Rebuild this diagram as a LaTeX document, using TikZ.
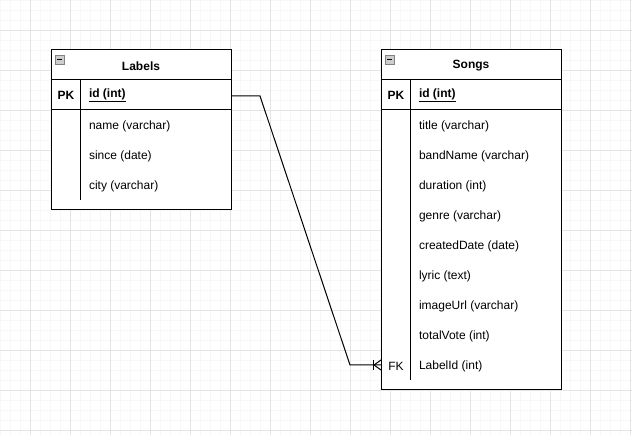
\documentclass[tikz,border=0pt]{standalone}
\usepackage{fontspec}
\setmainfont{Liberation Sans}
\usetikzlibrary{calc}
\definecolor{gridminor}{RGB}{247,247,247}
\definecolor{gridmajor}{RGB}{228,228,228}
\definecolor{iconfill}{RGB}{205,205,205}
\definecolor{icondraw}{RGB}{130,130,130}
\begin{document}
\begin{tikzpicture}[x=1pt,y=-1pt,
  every node/.style={font=\fontsize{12}{14}\selectfont, inner sep=0pt, outer sep=0pt},
  tbl/.style={draw=black, line width=1pt, fill=white, rectangle, anchor=north west, minimum width=180pt},
  rowbox/.style={rectangle, anchor=north west, minimum width=180pt, minimum height=30pt},
  title/.style={font=\fontsize{12}{14}\selectfont\bfseries},
  keytxt/.style={font=\fontsize{12}{14}\selectfont\bfseries},
  field/.style={anchor=west},
  rule/.style={line width=1pt},
  conn/.style={line width=1pt},
  icon/.style={draw=icondraw, fill=iconfill, line width=0.6pt}]

% canvas and grid
\fill[white] (0,0) rectangle (632,435);
\useasboundingbox (0,0) rectangle (632,435);
\foreach \g in {0,10,...,630} \draw[gridminor, line width=0.8pt] (\g,0) -- (\g,435);
\foreach \g in {0,10,...,430} \draw[gridminor, line width=0.8pt] (0,\g) -- (632,\g);
\foreach \g in {30,70,...,630} \draw[gridmajor, line width=0.8pt] (\g,0) -- (\g,435);
\foreach \g in {30,70,...,430} \draw[gridmajor, line width=0.8pt] (0,\g) -- (632,\g);

% ---- Labels table ----
\node[tbl, minimum height=160pt] (labels) at (51,50) {};
\node[rowbox] (lhead) at (51,50) {};
\node[rowbox] (lid) at (51,80) {};
\draw[rule] (51,80) -- (231,80);
\draw[rule] (51,110) -- (231,110);
\draw[rule] (80,80) -- (80,200);
\draw[icon] (55,55) rectangle (64,64);
\draw[line width=1pt] (57,59.5) -- (62,59.5);
\node[title] (ltitle) at (141,66) {Labels};
\node[keytxt] (lpk) at (66,95) {PK};
\node[keytxt, field] (lidtxt) at (89,95) {\underline{id (int)}};
\node[field] (lname) at (89,126) {name (varchar)};
\node[field] (lsince) at (89,156) {since (date)};
\node[field] (lcity) at (89,186) {city (varchar)};

% ---- Songs table ----
\node[tbl, minimum height=340pt] (songs) at (381,50) {};
\node[rowbox] (shead) at (381,50) {};
\node[rowbox] (sid) at (381,80) {};
\node[rowbox] (sfk) at (381,350) {};
\draw[rule] (381,80) -- (561,80);
\draw[rule] (381,110) -- (561,110);
\draw[rule] (410,80) -- (410,380);
\draw[icon] (385,55) rectangle (394,64);
\draw[line width=1pt] (387,59.5) -- (392,59.5);
\node[title] (stitle) at (471,66) {Songs};
\node[keytxt] (spk) at (396,95) {PK};
\node[keytxt, field] (sidtxt) at (419,95) {\underline{id (int)}};
\node[field] (stitlef) at (419,126) {title (varchar)};
\node[field] (sband) at (419,156) {bandName (varchar)};
\node[field] (sdur) at (419,186) {duration (int)};
\node[field] (sgenre) at (419,216) {genre (varchar)};
\node[field] (screated) at (419,246) {createdDate (date)};
\node[field] (slyric) at (419,276) {lyric (text)};
\node[field] (simage) at (419,306) {imageUrl (varchar)};
\node[field] (svote) at (419,336) {totalVote (int)};
\node (sfkk) at (396,366) {FK};
\node[field] (slabel) at (419,366) {LabelId (int)};

% ---- relationship: one label, many songs ----
\draw[conn] ($(lid.east)+(0,1)$) -- ++(29,0) -- ($(sfk.west)+(-31,0)$) -- (sfk.west);
% crow's foot at the Songs end
\draw[conn] ($(sfk.west)+(-8,-5)$) -- ++(0,10);
\draw[conn] ($(sfk.west)+(-7,0)$) -- ++(7,-5);
\draw[conn] ($(sfk.west)+(-7,0)$) -- ++(7,5);
\end{tikzpicture}
\end{document}
